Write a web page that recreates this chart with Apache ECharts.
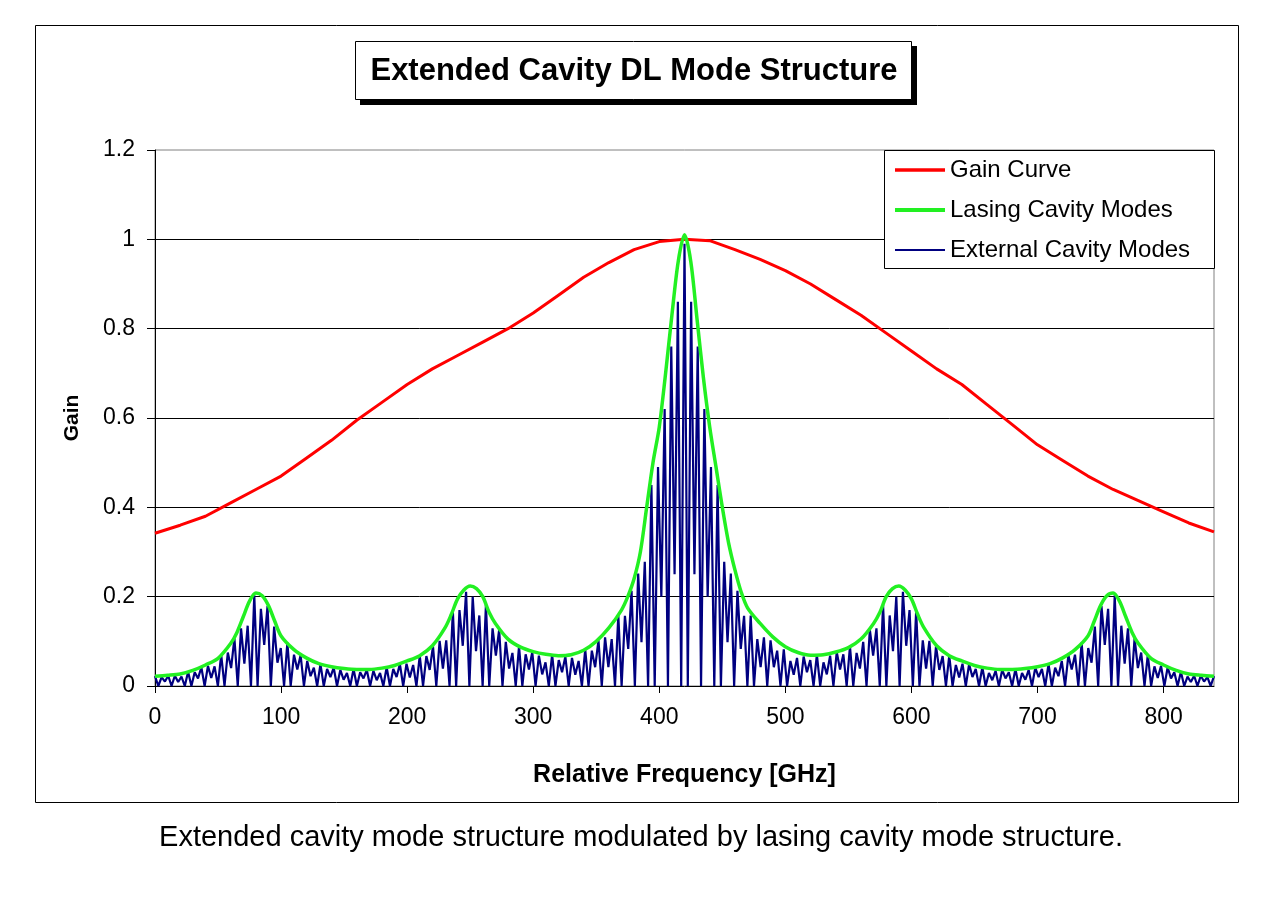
<!DOCTYPE html>
<html>
<head>
<meta charset="utf-8">
<script src="https://cdn.jsdelivr.net/npm/echarts@6/dist/echarts.min.js"></script>
<style>
html,body{margin:0;padding:0;background:#fff;}
#chart{width:1275px;height:900px;}
</style>
</head>
<body>
<div id="chart"></div>
<script>
// ---------- data ----------
const xTickValues = [0, 100, 200, 300, 400, 500, 600, 700, 800];

const gainX = [0,20,40,60,80,100,120,140,160,180,200,220,240,260,280,300,320,340,360,380,400,420,
  440,460,480,500,520,540,560,580,600,620,640,660,680,700,720,740,760,780,800,820,840];
const gainY = [0.342,0.36,0.38,0.41,0.44,0.47,0.51,0.55,0.595,0.635,0.675,0.71,0.74,0.77,0.80,0.835,0.875,0.915,0.948,0.977,0.995,1.0,
  0.997,0.977,0.955,0.93,0.9,0.865,0.83,0.79,0.75,0.71,0.675,0.63,0.585,0.54,0.505,0.47,0.44,0.415,0.39,0.365,0.345];

const lasingX = [0,10,20,30,40,50,60,65,70,75,
  80,85,90,95,100,110,120,130,140,150,
  160,170,180,190,200,210,220,230,235,240,
  245,250,255,260,265,270,280,290,300,310,
  320,330,340,350,360,370,375,380,385,390,
  395,400,405,410,415,420,425,430,435,440,
  445,450,455,460,465,470,480,490,500,510,
  520,530,540,550,560,570,575,580,585,590,
  595,600,605,610,620,630,640,650,660,670,
  680,690,700,710,720,730,740,745,750,755,
  760,765,770,775,780,790,800,810,820,830,
  840];
const lasingY = [0.022,0.024,0.027,0.035,0.047,0.062,0.095,0.12,0.155,0.19,
  0.208,0.202,0.18,0.145,0.112,0.082,0.063,0.05,0.043,0.039,
  0.037,0.037,0.04,0.046,0.056,0.068,0.09,0.13,0.16,0.195,
  0.215,0.224,0.218,0.2,0.165,0.14,0.105,0.087,0.077,0.071,
  0.068,0.07,0.08,0.1,0.13,0.17,0.2,0.24,0.3,0.4,
  0.5,0.58,0.7,0.83,0.95,1.01,0.95,0.82,0.69,0.58,
  0.49,0.4,0.32,0.26,0.21,0.175,0.14,0.11,0.088,0.075,
  0.069,0.07,0.076,0.086,0.105,0.14,0.165,0.2,0.218,0.224,
  0.215,0.195,0.16,0.13,0.09,0.068,0.056,0.046,0.04,0.037,
  0.037,0.039,0.043,0.05,0.063,0.082,0.112,0.145,0.18,0.202,
  0.208,0.19,0.155,0.12,0.095,0.062,0.047,0.035,0.027,0.024,
  0.022];

// external cavity modes: one peak per mode (mode spacing in GHz) and the dip between modes
const modeSpacing = 5.25;
const extPeaks = [
  0.022,0.020,0.023,0.023,0.021,0.032,0.031,0.042,0.045,0.044,
  0.07,0.075,0.107,0.129,0.135,0.203,0.173,0.179,0.133,0.085,
  0.097,0.07,0.069,0.056,0.041,0.049,0.038,0.041,0.036,0.029,
  0.038,0.031,0.036,0.034,0.029,0.042,0.038,0.049,0.05,0.047,
  0.068,0.067,0.089,0.101,0.102,0.168,0.17,0.211,0.2,0.158,
  0.182,0.129,0.126,0.099,0.074,0.089,0.071,0.076,0.068,0.053,
  0.07,0.058,0.066,0.063,0.056,0.082,0.079,0.102,0.109,0.105,
  0.158,0.157,0.213,0.252,0.278,0.45,0.49,0.62,0.76,0.86,
  0.99,
  0.86,0.76,0.62,0.49,0.45,0.278,0.252,0.213,0.157,0.158,
  0.105,0.109,0.102,0.079,0.082,0.056,0.063,0.066,0.058,0.07,
  0.053,0.068,0.076,0.071,0.089,0.074,0.099,0.126,0.129,0.182,
  0.158,0.2,0.211,0.17,0.168,0.102,0.101,0.089,0.067,0.068,
  0.047,0.05,0.049,0.038,0.042,0.029,0.034,0.036,0.031,0.038,
  0.029,0.036,0.041,0.038,0.049,0.041,0.056,0.069,0.07,0.097,
  0.085,0.133,0.179,0.173,0.203,0.135,0.129,0.107,0.075,0.07,
  0.044,0.045,0.042,0.031,0.032,0.021,0.023,0.023,0.020,0.022];
const extDips = [
  0,0.01,0,0.009,0,0,0.017,0,0.018,0,
  0,0.04,0,0.05,0,0,0.092,0,0.052,0,
  0,0.037,0,0.022,0,0,0.02,0,0.014,0,
  0,0.017,0,0.013,0,0,0.02,0,0.019,0,
  0,0.036,0,0.039,0,0,0.09,0,0.078,0,
  0,0.068,0,0.039,0,0,0.037,0,0.026,0,
  0,0.031,0,0.025,0,0,0.042,0,0.042,0,
  0,0.083,0,0.098,0,0,0.2,0,0.25,0,
  0,0.25,0,0.2,0,0,0.098,0,0.083,0,
  0,0.042,0,0.042,0,0,0.025,0,0.031,0,
  0,0.026,0,0.037,0,0,0.039,0,0.068,0,
  0,0.078,0,0.09,0,0,0.039,0,0.036,0,
  0,0.019,0,0.02,0,0,0.013,0,0.017,0,
  0,0.014,0,0.02,0,0,0.022,0,0.037,0,
  0,0.052,0,0.092,0,0,0.05,0,0.04,0,
  0,0.018,0,0.017,0,0,0.009,0,0.01,0];

// ---------- build ----------
const FONT = "'Liberation Sans', Arial, sans-serif";
const gainData = gainX.map((x, i) => [x, gainY[i]]);
const lasingData = lasingX.map((x, i) => [x, lasingY[i]]);
const extData = [];
for (let k = 0; k < extPeaks.length; k++) {
  extData.push([k * modeSpacing, extPeaks[k]]);
  if (k < extDips.length) extData.push([(k + 0.5) * modeSpacing, extDips[k]]);
}

const chart = echarts.init(document.getElementById('chart'), null, {renderer: 'canvas'});
chart.setOption({
  animation: false,
  backgroundColor: '#ffffff',
  textStyle: {fontFamily: FONT},
  grid: {
    left: 155, top: 150, right: 61, bottom: 214,
    show: true, borderColor: '#808080', borderWidth: 1, backgroundColor: '#ffffff'
  },
  xAxis: {
    type: 'value', min: 0, max: 840,
    name: 'Relative Frequency [GHz]', nameLocation: 'middle', nameGap: 77,
    nameTextStyle: {fontFamily: FONT, fontSize: 25, fontWeight: 'bold', color: '#000'},
    axisLine: {show: true, lineStyle: {color: '#000', width: 1}},
    axisTick: {show: true, length: 7, lineStyle: {color: '#000'}, customValues: xTickValues},
    axisLabel: {fontFamily: FONT, fontSize: 23, color: '#000', margin: 20, customValues: xTickValues},
    splitLine: {show: false}
  },
  yAxis: {
    type: 'value', min: 0, max: 1.2, interval: 0.2,
    name: 'Gain', nameLocation: 'middle', nameGap: 72, nameRotate: 90,
    nameTextStyle: {fontFamily: FONT, fontSize: 21, fontWeight: 'bold', color: '#000'},
    axisLine: {show: true, lineStyle: {color: '#000', width: 1}},
    axisTick: {show: true, length: 8, lineStyle: {color: '#000'}},
    axisLabel: {fontFamily: FONT, fontSize: 23, color: '#000', margin: 20,
      formatter: v => String(Math.round(v * 10) / 10)},
    splitLine: {show: true, showMaxLine: false, showMinLine: false, lineStyle: {color: '#000', width: 1}}
  },
  legend: {
    orient: 'vertical', left: 893, top: 158, padding: 0,
    itemGap: 16, itemWidth: 50, itemHeight: 20,
    itemStyle: {opacity: 0},
    textStyle: {fontFamily: FONT, fontSize: 24, color: '#000'},
    data: [
      {name: 'Gain Curve', lineStyle: {width: 3.5, color: '#ff0000'}},
      {name: 'Lasing Cavity Modes', lineStyle: {width: 4, color: '#22f022'}},
      {name: 'External Cavity Modes', lineStyle: {width: 2, color: '#000080'}}
    ],
    z: 6
  },
  graphic: [
    {type: 'rect', z: -1, shape: {x: 35.5, y: 25.5, width: 1203, height: 777},
      style: {fill: 'none', stroke: '#000', lineWidth: 1}},
    {type: 'rect', z: 10, shape: {x: 360, y: 46, width: 557, height: 59},
      style: {fill: '#000'}},
    {type: 'rect', z: 11, shape: {x: 355.5, y: 41.5, width: 556, height: 58},
      style: {fill: '#fff', stroke: '#000', lineWidth: 1}},
    {type: 'text', z: 12, x: 634, y: 71,
      style: {text: 'Extended Cavity DL Mode Structure', font: "bold 31px 'Liberation Sans', Arial, sans-serif",
        fill: '#000', textAlign: 'center', textVerticalAlign: 'middle'}},
    {type: 'rect', z: 5, shape: {x: 884.5, y: 150.5, width: 330, height: 118},
      style: {fill: '#fff', stroke: '#000', lineWidth: 1}},
    {type: 'text', z: 12, x: 641, y: 838,
      style: {text: 'Extended cavity mode structure modulated by lasing cavity mode structure.',
        font: "29px 'Liberation Sans', Arial, sans-serif", fill: '#000',
        textAlign: 'center', textVerticalAlign: 'middle'}}
  ],
  series: [
    {name: 'Gain Curve', type: 'line', data: gainData, showSymbol: false, symbol: 'none',
      lineStyle: {color: '#ff0000', width: 3}, itemStyle: {color: '#ff0000'}, z: 3},
    {name: 'Lasing Cavity Modes', type: 'line', data: lasingData, showSymbol: false, symbol: 'none',
      smooth: 0.3,
      lineStyle: {color: '#22f022', width: 3.5}, itemStyle: {color: '#22f022'}, z: 4},
    {name: 'External Cavity Modes', type: 'line', data: extData, showSymbol: false, symbol: 'none',
      lineStyle: {color: '#000080', width: 2.2}, itemStyle: {color: '#000080'}, z: 2}
  ]
});
</script>
</body>
</html>
